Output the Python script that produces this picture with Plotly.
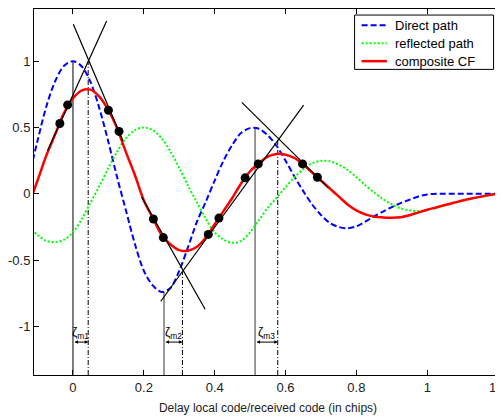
import plotly.graph_objects as go

# delay axis samples (chips)
delay = [-0.125, -0.1, -0.075, -0.05, -0.025, 0.0, 0.025, 0.05, 0.075, 0.1,
         0.125, 0.15, 0.175, 0.2, 0.225, 0.25, 0.275, 0.3, 0.325, 0.35,
         0.375, 0.4, 0.425, 0.45, 0.475, 0.5, 0.525, 0.55, 0.575, 0.6,
         0.625, 0.65, 0.675, 0.7, 0.725, 0.75, 0.775, 0.8, 0.825, 0.85,
         0.875, 0.9, 0.925, 0.95, 0.975, 1.0, 1.025, 1.05, 1.075, 1.1,
         1.125, 1.15, 1.175, 1.2, 1.225]

direct_path = [0.12, 0.40, 0.66, 0.85, 0.965, 1.00, 0.96, 0.84, 0.64, 0.39,
               0.12, -0.13, -0.38, -0.58, -0.69, -0.74, -0.71, -0.58, -0.40, -0.21,
               -0.06, 0.10, 0.25, 0.37, 0.46, 0.495, 0.49, 0.44, 0.36, 0.25,
               0.13, 0.02, -0.08, -0.16, -0.22, -0.25, -0.26, -0.245, -0.21, -0.17,
               -0.135, -0.10, -0.07, -0.045, -0.02, -0.005, 0, 0, 0, 0,
               0, 0, 0, 0, 0]

reflected_path = [-0.25, -0.31, -0.355, -0.365, -0.345, -0.29, -0.19, -0.065, 0.06, 0.195,
                  0.32, 0.42, 0.48, 0.50, 0.48, 0.42, 0.32, 0.195, 0.06, -0.065,
                  -0.19, -0.29, -0.345, -0.37, -0.355, -0.29, -0.20, -0.105, -0.03, 0.05,
                  0.125, 0.185, 0.23, 0.248, 0.245, 0.22, 0.18, 0.125, 0.065, 0.01,
                  -0.04, -0.08, -0.11, -0.125, -0.13, -0.122, -0.105, -0.085, -0.068, -0.05,
                  -0.035, -0.022, -0.01, -0.002, 0]

composite_cf = [-0.08, 0.10, 0.29, 0.45, 0.61, 0.72, 0.78, 0.785, 0.73, 0.63,
                0.49, 0.31, 0.14, -0.05, -0.18, -0.31, -0.38, -0.425, -0.43, -0.40,
                -0.33, -0.23, -0.13, -0.03, 0.08, 0.17, 0.23, 0.28, 0.30, 0.295,
                0.27, 0.22, 0.16, 0.10, 0.04, -0.02, -0.08, -0.125, -0.155, -0.172,
                -0.178, -0.18, -0.176, -0.162, -0.14, -0.12, -0.103, -0.085, -0.068, -0.05,
                -0.035, -0.022, -0.01, -0.002, 0]

series_names = ["Direct path", "reflected path", "composite CF"]

# early/late correlator samples on the composite CF
corr_x = [-0.037, -0.015, 0.100, 0.130, 0.227, 0.255, 0.382, 0.412, 0.486, 0.523, 0.648, 0.690]
corr_y = [0.53, 0.67, 0.63, 0.47, -0.19, -0.33, -0.306, -0.183, 0.12, 0.225, 0.225, 0.125]

# tangent (slope) lines: pairs of end points
tangent_x = [[-0.0715, 0.095], [0.001, 0.141], [0.194, 0.373], [0.248, 0.651], [0.4765, 0.721]]
tangent_y = [[0.326, 1.303], [1.278, 0.40], [-0.025, -0.87], [-0.81, 0.669], [0.689, 0.045]]

# true peaks (direct path) and composite peaks
true_peak_x = [0.0, 0.257, 0.514]
true_peak_y = [1.0, -0.74, 0.5]
comp_peak_x = [0.043, 0.309, 0.578]
comp_peak_y = [1.0, -0.59, 0.42]
zeta_labels = ["ζ<sub>m1</sub>", "ζ<sub>m2</sub>", "ζ<sub>m3</sub>"]

xticks = [0, 0.2, 0.4, 0.6, 0.8, 1.0, 1.2]
xticktext = ["0", "0.2", "0.4", "0.6", "0.8", "1", "1.2"]
yticks = [-1, -0.5, 0, 0.5, 1]
yticktext = ["-1", "-0.5", "0", "0.5", "1"]

XR = [-0.110, 1.211]
YR = [-1.366, 1.393]

styles = [dict(color="#0000ff", width=2, dash="6px,3px"),
          dict(color="#00ff00", width=2, dash="2px,2px"),
          dict(color="#ff0000", width=2.5, dash="solid")]

fig = go.Figure()

# vertical reference lines
for i, (xp, yp) in enumerate(zip(true_peak_x, true_peak_y)):
    fig.add_trace(go.Scatter(x=[xp, xp], y=[YR[0], yp], mode="lines",
                             line=dict(color="black" if i == 0 else "#808080",
                                       width=1 if i == 0 else 1.6),
                             showlegend=False, hoverinfo="skip"))
for xp, yp in zip(comp_peak_x, comp_peak_y):
    fig.add_trace(go.Scatter(x=[xp, xp], y=[YR[0], yp], mode="lines",
                             line=dict(color="black", width=1, dash="5px,2px,1px,2px"),
                             showlegend=False, hoverinfo="skip"))

for name, vals, st in zip(series_names, [direct_path, reflected_path, composite_cf], styles):
    fig.add_trace(go.Scatter(x=delay, y=vals, mode="lines", name=name, showlegend=False,
                             line=dict(shape="spline", smoothing=0.9, **st)))

for tx, ty in zip(tangent_x, tangent_y):
    fig.add_trace(go.Scatter(x=tx, y=ty, mode="lines", line=dict(color="black", width=1.2),
                             showlegend=False, hoverinfo="skip"))

fig.add_trace(go.Scatter(x=corr_x, y=corr_y, mode="markers",
                         marker=dict(color="black", size=9), showlegend=False))

# zeta annotations with double arrows
for a, b, lab in zip(true_peak_x, comp_peak_x, zeta_labels):
    fig.add_annotation(x=b, y=-1.118, ax=a, ay=-1.118, xref="x", yref="y",
                       axref="x", ayref="y", text="", showarrow=True,
                       arrowhead=2, arrowsize=0.7, arrowwidth=1, arrowside="end+start",
                       arrowcolor="black")
    fig.add_annotation(x=(a + b) / 2, y=-1.05, xref="x", yref="y", text=lab,
                       showarrow=False, font=dict(size=12, color="black"))

# legend box drawn in axis-domain coordinates
box_x0, box_x1, box_y0, box_y1 = 0.685, 0.982, 0.835, 0.9835
fig.add_shape(type="rect", xref="x domain", yref="y domain",
              x0=box_x0, x1=box_x1, y0=box_y0, y1=box_y1,
              line=dict(color="black", width=1), fillcolor="white", layer="above")
row_y = [0.9555, 0.9065, 0.8575]
for name, st, ry in zip(series_names, styles, row_y):
    fig.add_shape(type="line", xref="x domain", yref="y domain",
                  x0=0.700, x1=0.754, y0=ry, y1=ry, layer="above",
                  line=dict(color=st["color"], width=st["width"], dash=st["dash"]))
    fig.add_annotation(xref="x domain", yref="y domain", x=0.768, y=ry, text=name,
                       showarrow=False, xanchor="left", yanchor="middle",
                       font=dict(size=13, color="black"))

axis_common = dict(showgrid=False, zeroline=False, showline=True, linecolor="black",
                   linewidth=1, mirror="allticks", ticks="inside", ticklen=5,
                   tickcolor="black", tickfont=dict(size=13, color="#222"),
                   automargin=False, ticklabeloverflow="allow")

fig.update_xaxes(range=XR, tickvals=xticks, ticktext=xticktext,
                 title=dict(text="Delay local code/received code (in chips)",
                            font=dict(size=12, color="#222"), standoff=10),
                 **axis_common)
fig.update_yaxes(range=YR, tickvals=yticks, ticktext=yticktext, **axis_common)

# the page body adds an 8px offset, so the figure is sized to end at the window edge
fig.update_layout(width=495, height=409, margin=dict(l=26, r=1, t=1, b=42),
                  plot_bgcolor="white", paper_bgcolor="white", showlegend=False,
                  font=dict(family="Liberation Sans, Arial, sans-serif", size=12, color="#222"))

fig.write_html("out.html")
